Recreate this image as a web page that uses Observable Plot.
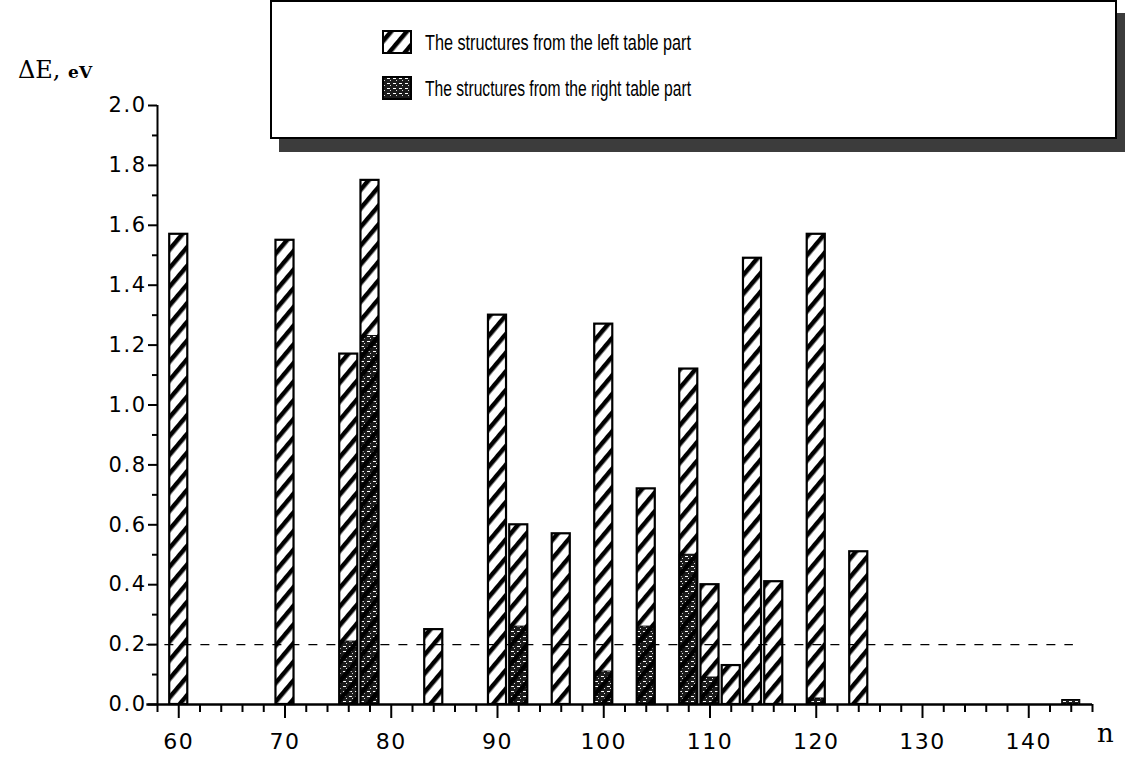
<!DOCTYPE html>
<html><head><meta charset="utf-8">
<script src="https://cdn.jsdelivr.net/npm/d3@7"></script>
<script src="https://cdn.jsdelivr.net/npm/@observablehq/plot@0.6"></script>
<style>
body{margin:0;background:#fff;}
#wrap{position:relative;width:1125px;height:768px;overflow:hidden;background:#fff;}
#chart{position:absolute;left:0;top:0;}
.ttl{position:absolute;font-family:"DejaVu Serif",serif;color:#000;white-space:nowrap;}
#legend{position:absolute;left:270px;top:0px;width:843px;height:135px;border:2px solid #000;background:#fff;box-shadow:9px 13px 0 #3c3c3c;}
</style></head><body>
<svg width="0" height="0" style="position:absolute">
<defs>
<pattern id="hatch" patternUnits="userSpaceOnUse" width="12" height="12" patternTransform="rotate(40)">
<rect x="0" y="0" width="4.5" height="12" fill="#000"/>
</pattern>
<pattern id="stipple" patternUnits="userSpaceOnUse" width="6" height="5">
<rect width="6" height="5" fill="#1c1c1c"/>
<rect x="1" y="1" width="3" height="1" fill="#fff"/>
<rect x="4" y="3" width="1" height="1" fill="#ddd"/>
</pattern>
</defs>
</svg>
<div id="wrap">
<div id="chart"></div>
<div class="ttl" style="left:18px;top:56px;font-size:24px;">ΔE, <span style="font-size:17px;font-weight:bold;">eV</span></div>
<div class="ttl" style="left:1097px;top:718px;font-size:26px;">n</div>
<div id="legend"></div>
</div>
<script>
// Left table part (hatched bars)
const leftN  = [60, 70, 76, 78, 84, 90, 92, 96, 100, 104, 108, 110, 112, 114, 116, 120, 124];
const leftDE = [1.57, 1.55, 1.17, 1.75, 0.25, 1.30, 0.60, 0.57, 1.27, 0.72, 1.12, 0.40, 0.13, 1.49, 0.41, 1.57, 0.51];
// Right table part (dark bars)
const rightN  = [76, 78, 92, 100, 104, 108, 110, 120, 144];
const rightDE = [0.21, 1.23, 0.26, 0.11, 0.26, 0.50, 0.09, 0.02, 0.015];
// Axis ticks
const xTicks = [60, 70, 80, 90, 100, 110, 120, 130, 140];
const yTicks = [0.0, 0.2, 0.4, 0.6, 0.8, 1.0, 1.2, 1.4, 1.6, 1.8, 2.0];
const threshold = 0.2;
const legendLabels = ["The structures from the left table part", "The structures from the right table part"];

const left = leftN.map((n, i) => ({n, v: leftDE[i]}));
const right = rightN.map((n, i) => ({n, v: rightDE[i]}));
const hw = 0.85;
const xMinor = d3.range(58, 147, 2).filter(d => !xTicks.includes(d));
const yMinor = d3.range(1, 20, 2).map(d => d / 10);

const plot = Plot.plot({
  width: 1125, height: 768,
  marginLeft: 157, marginRight: 33, marginTop: 105, marginBottom: 64,
  x: {domain: [58, 146], label: null},
  y: {domain: [0, 2.0], label: null},
  style: {fontFamily: "DejaVu Sans", fontSize: "21px", color: "#000", background: "transparent", letterSpacing: "1.5px"},
  marks: [
    Plot.ruleY([threshold], {x1: 57, x2: 144.2, stroke: "#000", strokeWidth: 1.3, strokeDasharray: "9,9"}),
    Plot.rectY(right, {x1: d => d.n - hw, x2: d => d.n + hw, y1: 0, y2: "v", fill: "url(#stipple)", stroke: "#000", strokeWidth: 1}),
    Plot.rectY(left, {x1: d => d.n - hw, x2: d => d.n + hw, y1: 0, y2: "v", fill: "url(#hatch)", stroke: "#000", strokeWidth: 2.2}),
    Plot.ruleX([58], {y1: 0, y2: 2.0, stroke: "#000", strokeWidth: 2}),
    Plot.ruleY([0], {x1: 57, x2: 146, stroke: "#000", strokeWidth: 2.5}),
    Plot.axisY({ticks: yTicks, tickSize: 9, tickPadding: 2, strokeWidth: 2, tickFormat: d => d.toFixed(1), fontSize: 21}),
    Plot.axisY({ticks: yMinor, tickSize: 5, strokeWidth: 2, tickFormat: () => ""}),
    Plot.axisX({ticks: xTicks, tickSize: 14, tickPadding: 15, strokeWidth: 2, tickFormat: d => String(d), fontSize: 22}),
    Plot.axisX({ticks: xMinor, tickSize: 8, strokeWidth: 2, tickFormat: () => ""})
  ]
});
document.getElementById("chart").appendChild(plot);

// Legend
const lg = d3.select("#legend").append("svg").attr("width", 843).attr("height", 135)
  .style("position", "absolute").style("left", 0).style("top", 0);
const fills = ["url(#hatch)", "url(#stipple)"];
const rowsY = [40, 86];
legendLabels.forEach((t, i) => {
  lg.append("rect").attr("x", 111).attr("y", rowsY[i] - 11).attr("width", 28).attr("height", 22)
    .attr("fill", fills[i]).attr("stroke", "#000").attr("stroke-width", 2);
  lg.append("text").attr("x", 153).attr("y", rowsY[i] + 8)
    .attr("font-family", "Liberation Sans, Arial, sans-serif").attr("font-size", 22)
    .attr("textLength", 266).attr("lengthAdjust", "spacingAndGlyphs").text(t);
});
</script>
</body></html>
